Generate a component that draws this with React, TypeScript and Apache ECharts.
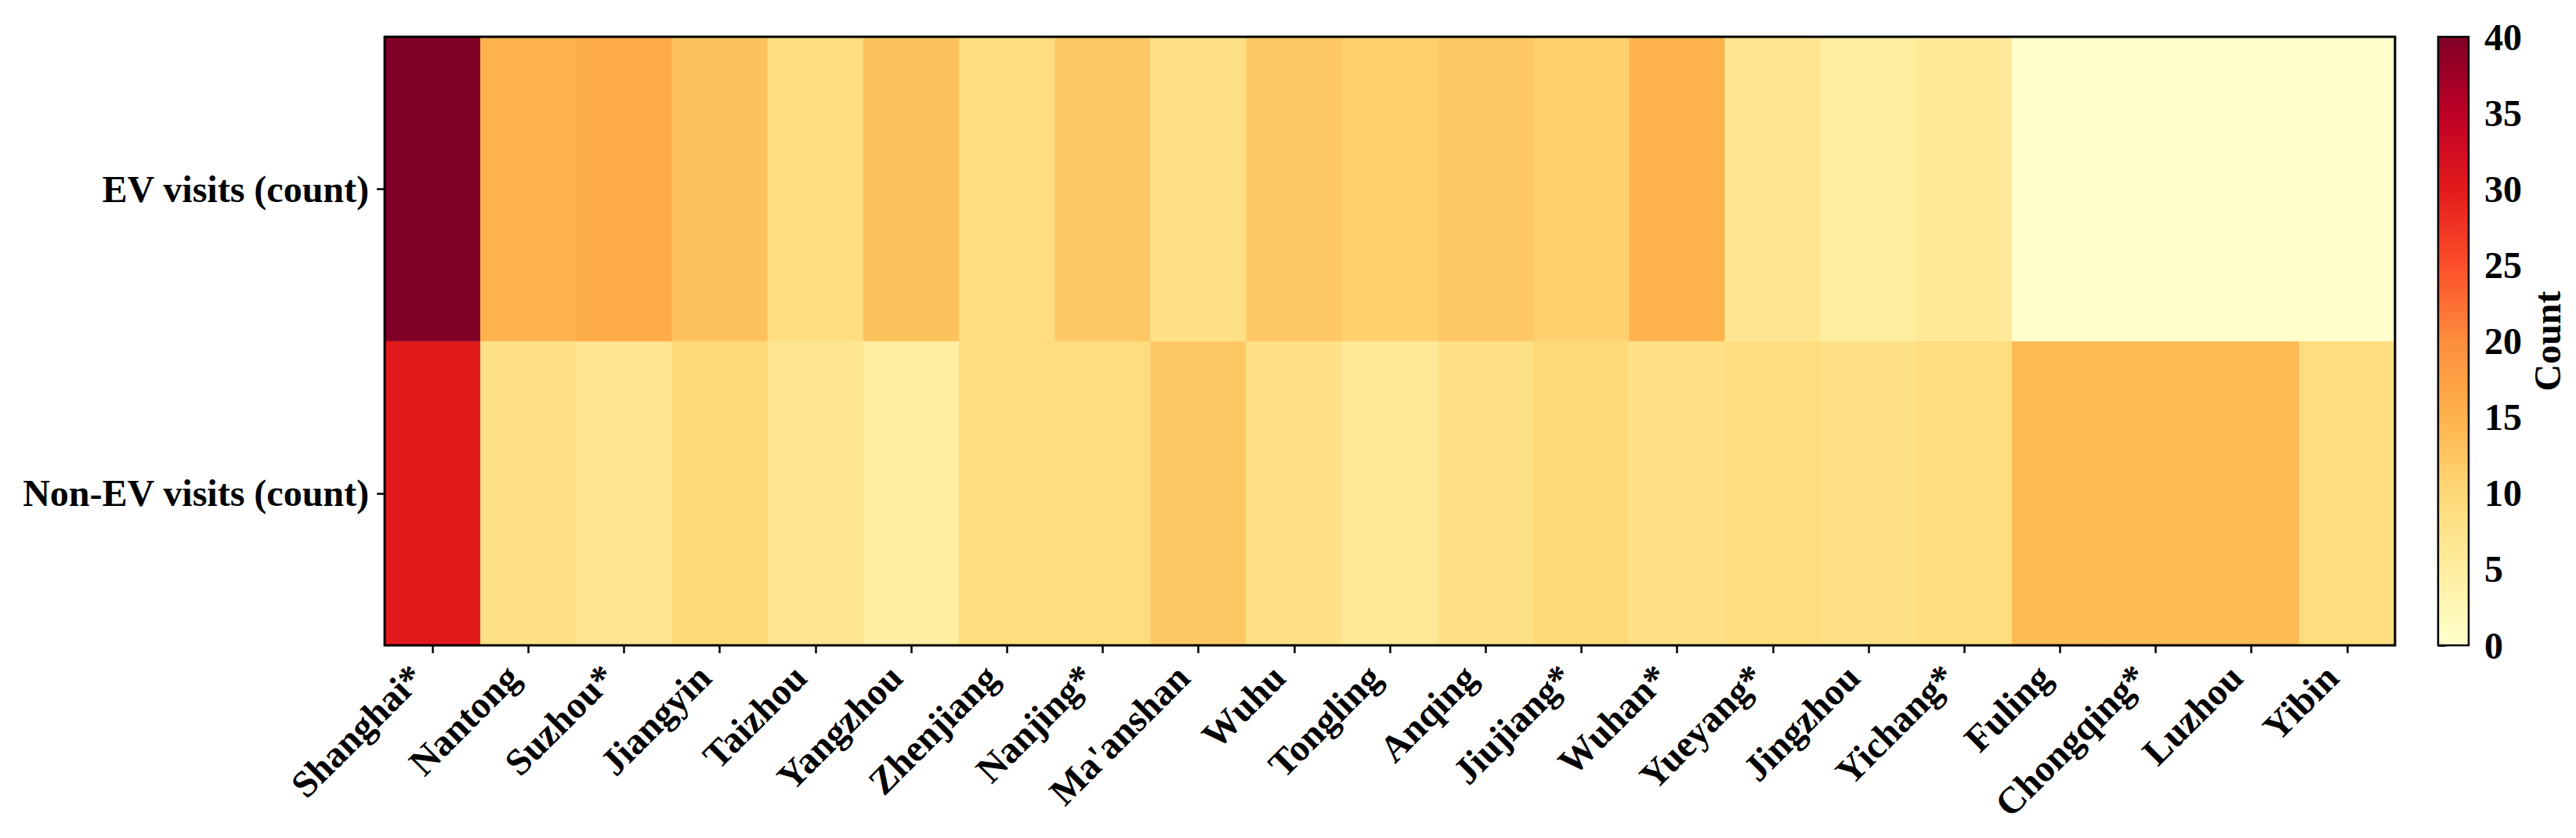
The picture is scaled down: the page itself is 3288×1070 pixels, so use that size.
import React, { useEffect, useRef } from "react";
import * as echarts from "echarts";

const cities = [
  "Shanghai*", "Nantong", "Suzhou*", "Jiangyin", "Taizhou", "Yangzhou", "Zhenjiang",
  "Nanjing*", "Ma'anshan", "Wuhu", "Tongling", "Anqing", "Jiujiang*", "Wuhan*",
  "Yueyang*", "Jingzhou", "Yichang*", "Fuling", "Chongqing*", "Luzhou", "Yibin",
];
const rowLabels = ["Non-EV visits (count)", "EV visits (count)"];
const evVisits = [40, 15, 16, 13, 9, 13, 9, 12, 8, 12, 11, 12, 11, 15, 7, 5, 6, 0, 0, 0, 0];
const nonEvVisits = [30, 8, 7, 10, 7, 5, 9, 9, 12, 8, 6, 8, 10, 8, 9, 8, 9, 14, 14, 14, 9];
const colorbarTicks = { min: 0, max: 40, interval: 5 };
const ylOrRd = ["#ffffcc", "#ffeda0", "#fed976", "#feb24c", "#fd8d3c", "#fc4e2a", "#e31a1c", "#bd0026", "#800026"];

const FONT = "Liberation Serif";

export default function App() {
  const ref = useRef<HTMLDivElement>(null);
  useEffect(() => {
    document.body.style.margin = "0";
    const chart = echarts.init(ref.current!, null, { renderer: "svg" });
    const data: number[][] = [];
    cities.forEach((_, i) => {
      data.push([i, 0, nonEvVisits[i]]);
      data.push([i, 1, evVisits[i]]);
    });
    const labelStyle = { fontFamily: FONT, fontWeight: "bold" as const, fontSize: 48, color: "#000" };
    chart.setOption({
      animation: false,
      backgroundColor: "#fff",
      grid: [
        { left: 491, top: 47, width: 2566, height: 777, show: true, borderColor: "#000", borderWidth: 3, backgroundColor: "transparent", z: 10 },
        { left: 3112, top: 47, width: 39, height: 777, show: true, borderColor: "#000", borderWidth: 2.5, backgroundColor: "transparent", z: 10 },
      ],
      xAxis: [
        {
          type: "category", data: cities, gridIndex: 0, position: "bottom",
          axisLine: { show: false },
          axisTick: { show: true, alignWithLabel: true, length: 10, lineStyle: { color: "#000", width: 2.5 } },
          axisLabel: { ...labelStyle, rotate: 45, margin: 13, padding: [0, 28, 0, 0], interval: 0 },
          splitLine: { show: false },
        },
        { type: "value", gridIndex: 1, show: false, min: 0, max: 1 },
      ],
      yAxis: [
        {
          type: "category", data: rowLabels, gridIndex: 0,
          axisLine: { show: false },
          axisTick: { show: true, alignWithLabel: true, length: 10, lineStyle: { color: "#000", width: 2.5 } },
          axisLabel: { ...labelStyle, margin: 20 },
          splitLine: { show: false },
        },
        {
          type: "value", gridIndex: 1, position: "right",
          min: colorbarTicks.min, max: colorbarTicks.max, interval: colorbarTicks.interval,
          axisLine: { show: false },
          axisTick: { show: true, length: 10, lineStyle: { color: "#000", width: 2.5 } },
          axisLabel: { ...labelStyle, margin: 20 },
          splitLine: { show: false },
          name: "Count", nameLocation: "middle", nameRotate: 90, nameGap: 76,
          nameTextStyle: { ...labelStyle },
        },
      ],
      visualMap: {
        type: "continuous", min: colorbarTicks.min, max: colorbarTicks.max, calculable: false,
        inRange: { color: ylOrRd },
        left: 3112, top: 47, itemWidth: 39, itemHeight: 777, padding: 0, z: 1,
        seriesIndex: 0, hoverLink: false,
      },
      series: [
        {
          type: "heatmap", xAxisIndex: 0, yAxisIndex: 0, data,
          itemStyle: { borderWidth: 0 },
          emphasis: { disabled: true },
        },
      ],
    });
    return () => chart.dispose();
  }, []);
  return <div ref={ref} style={{ width: 3288, height: 1070 }} />;
}
